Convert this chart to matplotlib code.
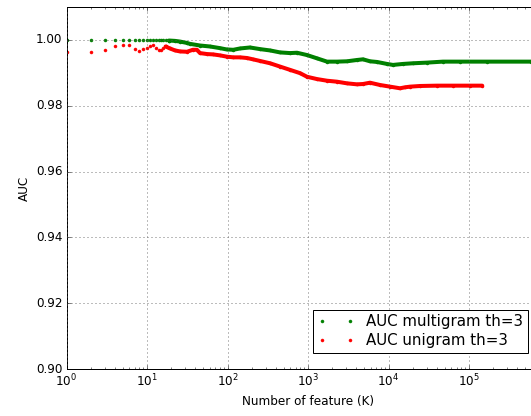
import matplotlib
matplotlib.use("Agg")
import matplotlib.pyplot as plt
from matplotlib.ticker import FormatStrFormatter, FixedLocator

plt.style.use('classic')

# ---- data ----
# multigram: sparse integer K points, then dense region
multi_k_sparse = [1, 2, 3, 4, 5, 6, 7, 8, 9, 10, 11, 12, 13, 14, 15, 16, 17, 18, 19]
multi_auc_sparse = [1.0000] * 14 + [1.0000, 0.9999, 0.9999, 0.9999, 0.9998]
multi_k_dense = [19, 22.3, 25.7, 31.1, 34.2, 45.5, 60.6, 80.7, 97.7, 118, 143, 190, 254,
                 338, 449, 598, 730, 972, 1294, 1723, 2294, 3052, 4062, 4822, 5890,
                 7197, 9580, 11370, 15140, 20140, 30070, 47530, 77270, 167400, 589000]
multi_auc_dense = [0.9998, 0.9997, 0.9995, 0.9991, 0.9988, 0.9983, 0.9980, 0.9975, 0.9971,
                   0.9970, 0.9974, 0.9977, 0.9972, 0.9968, 0.9962, 0.9960, 0.9961, 0.9954,
                   0.9944, 0.9934, 0.9934, 0.9935, 0.9939, 0.9941, 0.9935, 0.9933, 0.9927,
                   0.9924, 0.9927, 0.9929, 0.9931, 0.9934, 0.9934, 0.9934, 0.9934]

# unigram
uni_k_sparse = [1, 2, 3, 4, 5, 6, 7, 8, 9, 10, 11, 12, 13, 14, 15, 16, 17]
uni_auc_sparse = [0.9962, 0.9964, 0.9970, 0.9982, 0.9985, 0.9985, 0.9972, 0.9967, 0.9972,
                  0.9976, 0.9983, 0.9985, 0.9975, 0.9970, 0.9968, 0.9976, 0.9980]
uni_k_dense = [17, 19.3, 22.3, 25.7, 31.4, 37.1, 41.7, 45.5, 55.8, 66.1, 80.7, 98.5, 118,
               143, 175, 207, 254, 338, 449, 598, 796, 972, 1294, 1723, 2294, 3052, 4062,
               4822, 5890, 7840, 10440, 13890, 16060, 18580, 24740, 40120, 63420, 103000,
               146000]
uni_auc_dense = [0.9980, 0.9974, 0.9968, 0.9965, 0.9964, 0.9970, 0.9970, 0.9960, 0.9957,
                 0.9956, 0.9953, 0.9949, 0.9947, 0.9947, 0.9945, 0.9941, 0.9936, 0.9929,
                 0.9919, 0.9909, 0.9899, 0.9888, 0.9881, 0.9876, 0.9873, 0.9868, 0.9865,
                 0.9866, 0.9870, 0.9863, 0.9858, 0.9853, 0.9856, 0.9858, 0.9860, 0.9861,
                 0.9861, 0.9861, 0.9861]

x_ticks = [1, 10, 100, 1000, 10000, 100000]
y_ticks = [0.90, 0.92, 0.94, 0.96, 0.98, 1.00]

label_multi = "AUC multigram th=3"
label_uni = "AUC unigram th=3"

# ---- figure ----
W, H = 531, 416
fig = plt.figure(figsize=(W / 72, H / 72), dpi=72, facecolor='white')
ax = fig.add_axes([66.5 / W, 47 / H, 483 / W, 362 / H])

green = (0, 0.5, 0)
red = (1, 0, 0)

ax.plot(multi_k_dense, multi_auc_dense, '-', color=green, lw=4.0,
        solid_capstyle='round', solid_joinstyle='round')
ax.plot(multi_k_sparse + multi_k_dense, multi_auc_sparse + multi_auc_dense, '.',
        color=green, ms=6, mec=green, label=label_multi)
ax.plot(uni_k_dense, uni_auc_dense, '-', color=red, lw=4.0,
        solid_capstyle='round', solid_joinstyle='round')
ax.plot(uni_k_sparse + uni_k_dense, uni_auc_sparse + uni_auc_dense, '.',
        color=red, ms=6, mec=red, label=label_uni)

ax.set_xscale('log')
ax.set_xlim(1, 1e6)
ax.set_ylim(0.90, 1.01)
ax.xaxis.set_major_locator(FixedLocator(x_ticks))
ax.yaxis.set_major_locator(FixedLocator(y_ticks))
ax.yaxis.set_major_formatter(FormatStrFormatter('%.2f'))
ax.grid(True, which='major', linestyle=':', color='0.35', lw=0.8)

ax.set_xlabel("Number of feature (K)", fontsize=12)
ax.set_ylabel("AUC", fontsize=12)
ax.tick_params(labelsize=12)

leg = ax.legend(loc='lower right', bbox_to_anchor=(528 / W, 63 / H),
                bbox_transform=fig.transFigure, borderaxespad=0,
                numpoints=2, fontsize=15, fancybox=False,
                handlelength=2.5, handletextpad=0.8, borderpad=0.3,
                labelspacing=0.3)
leg.get_frame().set_edgecolor('black')

fig.savefig("out.png", dpi=72, facecolor='white')
